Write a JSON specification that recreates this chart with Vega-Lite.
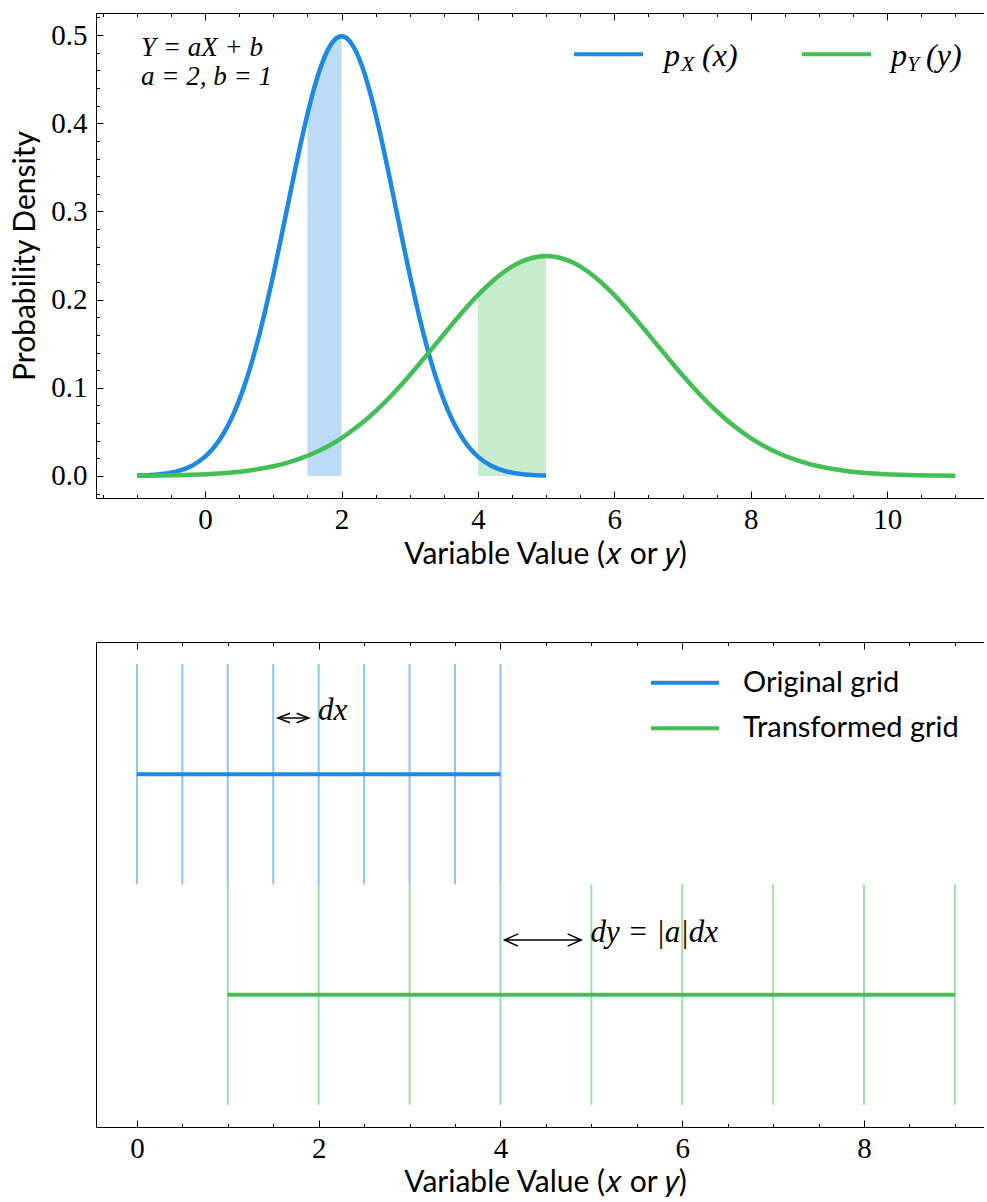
{
  "$schema": "https://vega.github.io/schema/vega-lite/v6.json",
  "padding": {"left": 10, "top": 12, "right": 0, "bottom": 0},
  "spacing": 72,
  "config": {
    "view": {"stroke": null},
    "axis": {
      "grid": false,
      "domainColor": "#000000",
      "domainWidth": 1,
      "tickColor": "#000000",
      "tickWidth": 1,
      "labelColor": "#000000",
      "labelFont": "Liberation Serif",
      "labelFontSize": 29,
      "titleColor": "#000000",
      "titleFont": "Lato",
      "titleFontSize": 30,
      "titleFontWeight": "normal",
      "labelFlush": false,
      "labelOverlap": false
    }
  },
  "datasets": {
    "densities": [
      {"dist": "pX", "v": -1.0, "density": 0.00044},
      {"dist": "pX", "v": -0.8, "density": 0.00109},
      {"dist": "pX", "v": -0.6, "density": 0.00254},
      {"dist": "pX", "v": -0.4, "density": 0.00554},
      {"dist": "pX", "v": -0.2, "density": 0.01137},
      {"dist": "pX", "v": 0.0, "density": 0.0219},
      {"dist": "pX", "v": 0.1, "density": 0.0297},
      {"dist": "pX", "v": 0.2, "density": 0.0397},
      {"dist": "pX", "v": 0.3, "density": 0.0522},
      {"dist": "pX", "v": 0.4, "density": 0.0675},
      {"dist": "pX", "v": 0.5, "density": 0.086},
      {"dist": "pX", "v": 0.6, "density": 0.1079},
      {"dist": "pX", "v": 0.7, "density": 0.1332},
      {"dist": "pX", "v": 0.8, "density": 0.1619},
      {"dist": "pX", "v": 0.9, "density": 0.1938},
      {"dist": "pX", "v": 1.0, "density": 0.2283},
      {"dist": "pX", "v": 1.1, "density": 0.2649},
      {"dist": "pX", "v": 1.2, "density": 0.3025},
      {"dist": "pX", "v": 1.3, "density": 0.3401},
      {"dist": "pX", "v": 1.4, "density": 0.3764},
      {"dist": "pX", "v": 1.5, "density": 0.4102},
      {"dist": "pX", "v": 1.6, "density": 0.4401},
      {"dist": "pX", "v": 1.7, "density": 0.4648},
      {"dist": "pX", "v": 1.8, "density": 0.4834},
      {"dist": "pX", "v": 1.9, "density": 0.4948},
      {"dist": "pX", "v": 2.0, "density": 0.4987},
      {"dist": "pX", "v": 2.1, "density": 0.4948},
      {"dist": "pX", "v": 2.2, "density": 0.4834},
      {"dist": "pX", "v": 2.3, "density": 0.4648},
      {"dist": "pX", "v": 2.4, "density": 0.4401},
      {"dist": "pX", "v": 2.5, "density": 0.4102},
      {"dist": "pX", "v": 2.6, "density": 0.3764},
      {"dist": "pX", "v": 2.7, "density": 0.3401},
      {"dist": "pX", "v": 2.8, "density": 0.3025},
      {"dist": "pX", "v": 2.9, "density": 0.2649},
      {"dist": "pX", "v": 3.0, "density": 0.2283},
      {"dist": "pX", "v": 3.1, "density": 0.1938},
      {"dist": "pX", "v": 3.2, "density": 0.1619},
      {"dist": "pX", "v": 3.3, "density": 0.1332},
      {"dist": "pX", "v": 3.4, "density": 0.1079},
      {"dist": "pX", "v": 3.5, "density": 0.086},
      {"dist": "pX", "v": 3.6, "density": 0.0675},
      {"dist": "pX", "v": 3.7, "density": 0.0522},
      {"dist": "pX", "v": 3.8, "density": 0.0397},
      {"dist": "pX", "v": 3.9, "density": 0.0297},
      {"dist": "pX", "v": 4.0, "density": 0.0219},
      {"dist": "pX", "v": 4.2, "density": 0.01137},
      {"dist": "pX", "v": 4.4, "density": 0.00554},
      {"dist": "pX", "v": 4.6, "density": 0.00254},
      {"dist": "pX", "v": 4.8, "density": 0.00109},
      {"dist": "pX", "v": 5.0, "density": 0.00044},
      {"dist": "pY", "v": -1.0, "density": 0.00022},
      {"dist": "pY", "v": -0.6, "density": 0.00054},
      {"dist": "pY", "v": -0.2, "density": 0.00127},
      {"dist": "pY", "v": 0.2, "density": 0.00277},
      {"dist": "pY", "v": 0.6, "density": 0.00568},
      {"dist": "pY", "v": 1.0, "density": 0.01095},
      {"dist": "pY", "v": 1.2, "density": 0.0149},
      {"dist": "pY", "v": 1.4, "density": 0.0199},
      {"dist": "pY", "v": 1.6, "density": 0.0261},
      {"dist": "pY", "v": 1.8, "density": 0.0337},
      {"dist": "pY", "v": 2.0, "density": 0.043},
      {"dist": "pY", "v": 2.2, "density": 0.054},
      {"dist": "pY", "v": 2.4, "density": 0.0666},
      {"dist": "pY", "v": 2.6, "density": 0.0809},
      {"dist": "pY", "v": 2.8, "density": 0.0969},
      {"dist": "pY", "v": 3.0, "density": 0.1141},
      {"dist": "pY", "v": 3.2, "density": 0.1325},
      {"dist": "pY", "v": 3.4, "density": 0.1512},
      {"dist": "pY", "v": 3.6, "density": 0.17},
      {"dist": "pY", "v": 3.8, "density": 0.1882},
      {"dist": "pY", "v": 4.0, "density": 0.2051},
      {"dist": "pY", "v": 4.2, "density": 0.22},
      {"dist": "pY", "v": 4.4, "density": 0.2324},
      {"dist": "pY", "v": 4.6, "density": 0.2417},
      {"dist": "pY", "v": 4.8, "density": 0.2474},
      {"dist": "pY", "v": 5.0, "density": 0.2494},
      {"dist": "pY", "v": 5.2, "density": 0.2474},
      {"dist": "pY", "v": 5.4, "density": 0.2417},
      {"dist": "pY", "v": 5.6, "density": 0.2324},
      {"dist": "pY", "v": 5.8, "density": 0.22},
      {"dist": "pY", "v": 6.0, "density": 0.2051},
      {"dist": "pY", "v": 6.2, "density": 0.1882},
      {"dist": "pY", "v": 6.4, "density": 0.17},
      {"dist": "pY", "v": 6.6, "density": 0.1512},
      {"dist": "pY", "v": 6.8, "density": 0.1325},
      {"dist": "pY", "v": 7.0, "density": 0.1141},
      {"dist": "pY", "v": 7.2, "density": 0.0969},
      {"dist": "pY", "v": 7.4, "density": 0.0809},
      {"dist": "pY", "v": 7.6, "density": 0.0666},
      {"dist": "pY", "v": 7.8, "density": 0.054},
      {"dist": "pY", "v": 8.0, "density": 0.043},
      {"dist": "pY", "v": 8.2, "density": 0.0337},
      {"dist": "pY", "v": 8.4, "density": 0.0261},
      {"dist": "pY", "v": 8.6, "density": 0.0199},
      {"dist": "pY", "v": 8.8, "density": 0.0149},
      {"dist": "pY", "v": 9.0, "density": 0.01095},
      {"dist": "pY", "v": 9.4, "density": 0.00568},
      {"dist": "pY", "v": 9.8, "density": 0.00277},
      {"dist": "pY", "v": 10.2, "density": 0.00127},
      {"dist": "pY", "v": 10.6, "density": 0.00054},
      {"dist": "pY", "v": 11.0, "density": 0.00022}
    ],
    "gridlines": [
      {"grid": "Original grid", "pos": 0.0, "lo": 0.5, "hi": 1.5},
      {"grid": "Original grid", "pos": 0.5, "lo": 0.5, "hi": 1.5},
      {"grid": "Original grid", "pos": 1.0, "lo": 0.5, "hi": 1.5},
      {"grid": "Original grid", "pos": 1.5, "lo": 0.5, "hi": 1.5},
      {"grid": "Original grid", "pos": 2.0, "lo": 0.5, "hi": 1.5},
      {"grid": "Original grid", "pos": 2.5, "lo": 0.5, "hi": 1.5},
      {"grid": "Original grid", "pos": 3.0, "lo": 0.5, "hi": 1.5},
      {"grid": "Original grid", "pos": 3.5, "lo": 0.5, "hi": 1.5},
      {"grid": "Original grid", "pos": 4.0, "lo": 0.5, "hi": 1.5},
      {"grid": "Transformed grid", "pos": 1, "lo": -0.5, "hi": 0.5},
      {"grid": "Transformed grid", "pos": 2, "lo": -0.5, "hi": 0.5},
      {"grid": "Transformed grid", "pos": 3, "lo": -0.5, "hi": 0.5},
      {"grid": "Transformed grid", "pos": 4, "lo": -0.5, "hi": 0.5},
      {"grid": "Transformed grid", "pos": 5, "lo": -0.5, "hi": 0.5},
      {"grid": "Transformed grid", "pos": 6, "lo": -0.5, "hi": 0.5},
      {"grid": "Transformed grid", "pos": 7, "lo": -0.5, "hi": 0.5},
      {"grid": "Transformed grid", "pos": 8, "lo": -0.5, "hi": 0.5},
      {"grid": "Transformed grid", "pos": 9, "lo": -0.5, "hi": 0.5}
    ],
    "spans": [
      {"grid": "Original grid", "start": 0, "end": 4, "level": 1},
      {"grid": "Transformed grid", "start": 1, "end": 9, "level": 0}
    ],
    "single": [{}]
  },
  "vconcat": [
    {
      "width": 888,
      "height": 485,
      "resolve": {"axis": {"x": "independent", "y": "independent"}},
      "layer": [
        {
          "data": {"name": "densities"},
          "transform": [{"filter": "(datum.dist === 'pX' && datum.v >= 1.5 && datum.v <= 2) || (datum.dist === 'pY' && datum.v >= 4 && datum.v <= 5)"}],
          "mark": {"type": "area", "opacity": 0.3, "interpolate": "monotone"},
          "encoding": {
            "x": {"field": "v", "type": "quantitative", "scale": {"domain": [-1.6, 11.42], "nice": false, "zero": false},
                  "axis": {"orient": "bottom", "values": [0, 2, 4, 6, 8, 10], "tickSize": -7, "labelPadding": 14, "title": "Variable Value (𝑥 or 𝑦)", "titlePadding": 5, "titleX": 449}},
            "y": {"field": "density", "type": "quantitative", "stack": null, "scale": {"domain": [-0.025, 0.525], "nice": false, "zero": false},
                  "axis": {"orient": "left", "values": [0, 0.1, 0.2, 0.3, 0.4, 0.5], "format": ".1f", "tickSize": -7, "labelPadding": 16, "title": "Probability Density", "titlePadding": 10}},
            "y2": {"datum": 0},
            "color": {"field": "dist", "type": "nominal", "scale": {"domain": ["pX", "pY"], "range": ["#1E88E5", "#43BF55"]}, "legend": null}
          }
        },
        {
          "data": {"name": "densities"},
          "mark": {"type": "line", "strokeWidth": 4.5, "interpolate": "monotone"},
          "encoding": {
            "x": {"field": "v", "type": "quantitative", "scale": {"domain": [-1.6, 11.42], "nice": false, "zero": false},
                  "axis": {"orient": "bottom", "values": [-1.5, -1, -0.5, 0.5, 1, 1.5, 2.5, 3, 3.5, 4.5, 5, 5.5, 6.5, 7, 7.5, 8.5, 9, 9.5, 10.5, 11], "tickSize": -3.5, "labels": false, "domain": false, "title": null}},
            "y": {"field": "density", "type": "quantitative", "scale": {"domain": [-0.025, 0.525], "nice": false, "zero": false},
                  "axis": {"orient": "left", "values": [-0.02, 0.02, 0.04, 0.06, 0.08, 0.12, 0.14, 0.16, 0.18, 0.22, 0.24, 0.26, 0.28, 0.32, 0.34, 0.36, 0.38, 0.42, 0.44, 0.46, 0.48, 0.52], "tickSize": -3.5, "labels": false, "domain": false, "title": null}},
            "color": {"field": "dist", "type": "nominal", "scale": {"domain": ["pX", "pY"], "range": ["#1E88E5", "#43BF55"]}, "legend": null}
          }
        },
        {
          "data": {"name": "densities"},
          "mark": {"type": "point", "opacity": 0, "size": 1},
          "encoding": {
            "x": {"field": "v", "type": "quantitative", "scale": {"domain": [-1.6, 11.42], "nice": false, "zero": false},
                  "axis": {"orient": "top", "values": [0, 2, 4, 6, 8, 10], "tickSize": -7, "labels": false, "domain": true, "title": null}},
            "y": {"field": "density", "type": "quantitative", "axis": null}
          }
        },
        {
          "data": {"name": "densities"},
          "mark": {"type": "point", "opacity": 0, "size": 1},
          "encoding": {
            "x": {"field": "v", "type": "quantitative", "scale": {"domain": [-1.6, 11.42], "nice": false, "zero": false},
                  "axis": {"orient": "top", "values": [-1.5, -1, -0.5, 0.5, 1, 1.5, 2.5, 3, 3.5, 4.5, 5, 5.5, 6.5, 7, 7.5, 8.5, 9, 9.5, 10.5, 11], "tickSize": -3.5, "labels": false, "domain": false, "title": null}},
            "y": {"field": "density", "type": "quantitative", "axis": null}
          }
        },
        {
          "data": {"name": "single"},
          "mark": {"type": "text", "text": "Y = aX + b", "font": "Liberation Serif", "fontStyle": "italic", "fontSize": 27, "align": "left", "baseline": "alphabetic", "color": "#000000"},
          "encoding": {"x": {"datum": -0.94, "type": "quantitative", "axis": null}, "y": {"datum": 0.4757, "type": "quantitative", "axis": null}}
        },
        {
          "data": {"name": "single"},
          "mark": {"type": "text", "text": "a = 2, b = 1", "font": "Liberation Serif", "fontStyle": "italic", "fontSize": 27, "align": "left", "baseline": "alphabetic", "color": "#000000"},
          "encoding": {"x": {"datum": -0.94, "type": "quantitative", "axis": null}, "y": {"datum": 0.4434, "type": "quantitative", "axis": null}}
        },
        {
          "data": {"name": "single"},
          "mark": {"type": "rule", "color": "#1E88E5", "strokeWidth": 4},
          "encoding": {"x": {"datum": 5.41, "type": "quantitative", "axis": null}, "x2": {"datum": 6.42}, "y": {"datum": 0.4782, "type": "quantitative", "axis": null}}
        },
        {
          "data": {"name": "single"},
          "mark": {"type": "rule", "color": "#43BF55", "strokeWidth": 4},
          "encoding": {"x": {"datum": 8.752, "type": "quantitative", "axis": null}, "x2": {"datum": 9.764}, "y": {"datum": 0.4782, "type": "quantitative", "axis": null}}
        },
        {
          "data": {"name": "single"},
          "mark": {"type": "text", "text": "p", "font": "Liberation Serif", "fontStyle": "italic", "fontSize": 32, "align": "left", "baseline": "alphabetic", "color": "#000000"},
          "encoding": {"x": {"datum": 6.728, "type": "quantitative", "axis": null}, "y": {"datum": 0.4649, "type": "quantitative", "axis": null}}
        },
        {
          "data": {"name": "single"},
          "mark": {"type": "text", "text": "X", "font": "Liberation Serif", "fontStyle": "italic", "fontSize": 22, "align": "left", "baseline": "alphabetic", "color": "#000000"},
          "encoding": {"x": {"datum": 6.978, "type": "quantitative", "axis": null}, "y": {"datum": 0.4592, "type": "quantitative", "axis": null}}
        },
        {
          "data": {"name": "single"},
          "mark": {"type": "text", "text": "(x)", "font": "Liberation Serif", "fontStyle": "italic", "fontSize": 32, "align": "left", "baseline": "alphabetic", "color": "#000000"},
          "encoding": {"x": {"datum": 7.286, "type": "quantitative", "axis": null}, "y": {"datum": 0.4649, "type": "quantitative", "axis": null}}
        },
        {
          "data": {"name": "single"},
          "mark": {"type": "text", "text": "p", "font": "Liberation Serif", "fontStyle": "italic", "fontSize": 32, "align": "left", "baseline": "alphabetic", "color": "#000000"},
          "encoding": {"x": {"datum": 10.057, "type": "quantitative", "axis": null}, "y": {"datum": 0.4649, "type": "quantitative", "axis": null}}
        },
        {
          "data": {"name": "single"},
          "mark": {"type": "text", "text": "Y", "font": "Liberation Serif", "fontStyle": "italic", "fontSize": 22, "align": "left", "baseline": "alphabetic", "color": "#000000"},
          "encoding": {"x": {"datum": 10.291, "type": "quantitative", "axis": null}, "y": {"datum": 0.4592, "type": "quantitative", "axis": null}}
        },
        {
          "data": {"name": "single"},
          "mark": {"type": "text", "text": "(y)", "font": "Liberation Serif", "fontStyle": "italic", "fontSize": 32, "align": "left", "baseline": "alphabetic", "color": "#000000"},
          "encoding": {"x": {"datum": 10.57, "type": "quantitative", "axis": null}, "y": {"datum": 0.4649, "type": "quantitative", "axis": null}}
        }
      ]
    },
    {
      "width": 888,
      "height": 485,
      "resolve": {"axis": {"x": "independent", "y": "independent"}},
      "layer": [
        {
          "data": {"name": "gridlines"},
          "mark": {"type": "rule", "strokeWidth": 2, "opacity": 0.5},
          "encoding": {
            "x": {"field": "pos", "type": "quantitative", "scale": {"domain": [-0.45, 9.32], "nice": false, "zero": false},
                  "axis": {"orient": "bottom", "values": [0, 2, 4, 6, 8], "tickSize": -7, "labelPadding": 14, "title": "Variable Value (𝑥 or 𝑦)", "titlePadding": 4, "titleX": 449}},
            "y": {"field": "lo", "type": "quantitative", "scale": {"domain": [-0.6, 1.6], "nice": false, "zero": false},
                  "axis": {"orient": "left", "ticks": false, "labels": false, "domain": true, "title": null}},
            "y2": {"field": "hi"},
            "color": {"field": "grid", "type": "nominal", "scale": {"domain": ["Original grid", "Transformed grid"], "range": ["#1E88E5", "#43BF55"]}, "legend": null}
          }
        },
        {
          "data": {"name": "spans"},
          "mark": {"type": "rule", "strokeWidth": 4},
          "encoding": {
            "x": {"field": "start", "type": "quantitative", "scale": {"domain": [-0.45, 9.32], "nice": false, "zero": false},
                  "axis": {"orient": "bottom", "values": [0.5, 1, 1.5, 2.5, 3, 3.5, 4.5, 5, 5.5, 6.5, 7, 7.5, 8.5, 9], "tickSize": -3.5, "labels": false, "domain": false, "title": null}},
            "x2": {"field": "end"},
            "y": {"field": "level", "type": "quantitative", "scale": {"domain": [-0.6, 1.6], "nice": false, "zero": false}, "axis": null},
            "color": {"field": "grid", "type": "nominal", "scale": {"domain": ["Original grid", "Transformed grid"], "range": ["#1E88E5", "#43BF55"]}, "legend": null}
          }
        },
        {
          "data": {"name": "spans"},
          "mark": {"type": "point", "opacity": 0, "size": 1},
          "encoding": {
            "x": {"field": "start", "type": "quantitative", "scale": {"domain": [-0.45, 9.32], "nice": false, "zero": false},
                  "axis": {"orient": "top", "values": [0, 2, 4, 6, 8], "tickSize": -7, "labels": false, "domain": true, "title": null}},
            "y": {"field": "level", "type": "quantitative", "axis": null}
          }
        },
        {
          "data": {"name": "spans"},
          "mark": {"type": "point", "opacity": 0, "size": 1},
          "encoding": {
            "x": {"field": "start", "type": "quantitative", "scale": {"domain": [-0.45, 9.32], "nice": false, "zero": false},
                  "axis": {"orient": "top", "values": [0.5, 1, 1.5, 2.5, 3, 3.5, 4.5, 5, 5.5, 6.5, 7, 7.5, 8.5, 9], "tickSize": -3.5, "labels": false, "domain": false, "title": null}},
            "y": {"field": "level", "type": "quantitative", "axis": null}
          }
        },
        {
          "data": {"name": "single"},
          "mark": {"type": "rule", "color": "#000000", "strokeWidth": 1.5},
          "encoding": {"x": {"datum": 1.552, "type": "quantitative", "axis": null}, "x2": {"datum": 1.89}, "y": {"datum": 1.2553, "type": "quantitative", "axis": null}}
        },
        {
          "data": {"name": "single"},
          "mark": {"type": "point", "shape": "M 1 -0.4 L 0 0 L 1 0.4", "filled": false, "size": 576, "color": "#000000", "strokeWidth": 1.5, "opacity": 1},
          "encoding": {"x": {"datum": 1.552, "type": "quantitative", "axis": null}, "y": {"datum": 1.2553, "type": "quantitative", "axis": null}}
        },
        {
          "data": {"name": "single"},
          "mark": {"type": "point", "shape": "M -1 -0.4 L 0 0 L -1 0.4", "filled": false, "size": 576, "color": "#000000", "strokeWidth": 1.5, "opacity": 1},
          "encoding": {"x": {"datum": 1.89, "type": "quantitative", "axis": null}, "y": {"datum": 1.2553, "type": "quantitative", "axis": null}}
        },
        {
          "data": {"name": "single"},
          "mark": {"type": "rule", "color": "#000000", "strokeWidth": 1.5},
          "encoding": {"x": {"datum": 4.045, "type": "quantitative", "axis": null}, "x2": {"datum": 4.888}, "y": {"datum": 0.2482, "type": "quantitative", "axis": null}}
        },
        {
          "data": {"name": "single"},
          "mark": {"type": "point", "shape": "M 1 -0.45 L 0 0 L 1 0.45", "filled": false, "size": 729, "color": "#000000", "strokeWidth": 1.5, "opacity": 1},
          "encoding": {"x": {"datum": 4.045, "type": "quantitative", "axis": null}, "y": {"datum": 0.2482, "type": "quantitative", "axis": null}}
        },
        {
          "data": {"name": "single"},
          "mark": {"type": "point", "shape": "M -1 -0.45 L 0 0 L -1 0.45", "filled": false, "size": 729, "color": "#000000", "strokeWidth": 1.5, "opacity": 1},
          "encoding": {"x": {"datum": 4.888, "type": "quantitative", "axis": null}, "y": {"datum": 0.2482, "type": "quantitative", "axis": null}}
        },
        {
          "data": {"name": "single"},
          "mark": {"type": "text", "text": "dx", "font": "Liberation Serif", "fontStyle": "italic", "fontSize": 31, "align": "left", "baseline": "alphabetic", "color": "#000000"},
          "encoding": {"x": {"datum": 1.992, "type": "quantitative", "axis": null}, "y": {"datum": 1.246, "type": "quantitative", "axis": null}}
        },
        {
          "data": {"name": "single"},
          "mark": {"type": "text", "text": "dy = |a|dx", "font": "Liberation Serif", "fontStyle": "italic", "fontSize": 31, "align": "left", "baseline": "alphabetic", "color": "#000000"},
          "encoding": {"x": {"datum": 4.991, "type": "quantitative", "axis": null}, "y": {"datum": 0.239, "type": "quantitative", "axis": null}}
        },
        {
          "data": {"name": "single"},
          "mark": {"type": "rule", "color": "#1E88E5", "strokeWidth": 4},
          "encoding": {"x": {"datum": 5.656, "type": "quantitative", "axis": null}, "x2": {"datum": 6.404}, "y": {"datum": 1.4154, "type": "quantitative", "axis": null}}
        },
        {
          "data": {"name": "single"},
          "mark": {"type": "rule", "color": "#43BF55", "strokeWidth": 4},
          "encoding": {"x": {"datum": 5.656, "type": "quantitative", "axis": null}, "x2": {"datum": 6.404}, "y": {"datum": 1.2085, "type": "quantitative", "axis": null}}
        },
        {
          "data": {"name": "single"},
          "mark": {"type": "text", "text": "Original grid", "font": "Lato", "fontSize": 29, "align": "left", "baseline": "middle", "color": "#000000"},
          "encoding": {"x": {"datum": 6.668, "type": "quantitative", "axis": null}, "y": {"datum": 1.4154, "type": "quantitative", "axis": null}}
        },
        {
          "data": {"name": "single"},
          "mark": {"type": "text", "text": "Transformed grid", "font": "Lato", "fontSize": 29, "align": "left", "baseline": "middle", "color": "#000000"},
          "encoding": {"x": {"datum": 6.668, "type": "quantitative", "axis": null}, "y": {"datum": 1.2085, "type": "quantitative", "axis": null}}
        }
      ]
    }
  ]
}
